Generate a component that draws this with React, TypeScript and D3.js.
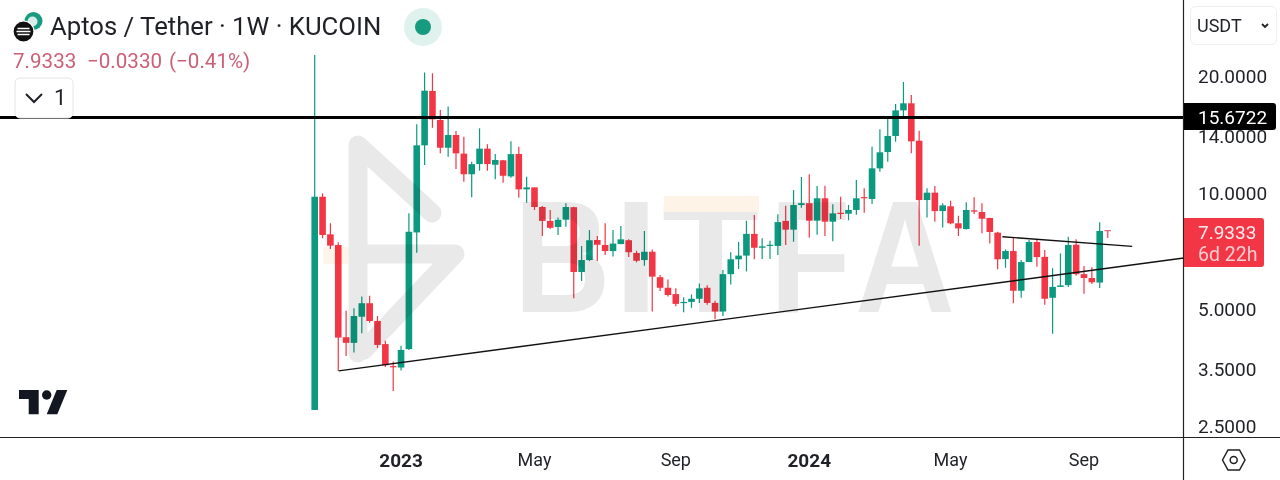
import React from "react";
import * as d3 from "d3";

const WIDTH = 1280, HEIGHT = 480;
const AXIS_X = 1183.5, AXIS_Y = 437.5;

// week index 0 .. 100, weekly candles: [high, top of body, bottom of body, low]
const highs = [22.73,9.98,8.35,7.46,4.96,5.04,5.40,5.43,4.81,4.15,3.67,4.03,8.86,15.05,20.47,20.39,16.38,16.72,14.46,13.98,12.05,14.69,13.36,12.61,12.17,13.60,13.17,11.02,10.34,9.26,9.04,8.65,9.41,9.22,7.30,8.02,7.74,8.35,8.02,8.22,7.59,7.09,7.98,7.15,6.14,5.98,5.67,5.38,5.47,5.84,5.78,5.27,6.32,7.03,7.47,8.48,8.77,7.64,7.53,8.81,9.27,10.18,11.00,11.18,10.42,10.44,9.35,9.78,9.31,10.80,10.28,13.17,14.61,15.75,16.97,19.36,17.91,14.48,10.28,10.42,9.41,9.55,8.74,9.46,9.75,9.41,8.63,7.94,7.15,7.66,6.71,7.56,7.60,7.12,6.39,6.98,7.71,7.59,6.48,6.43,8.40];
const tops = [9.78,9.78,7.82,7.34,4.24,4.81,5.19,5.19,4.67,4.07,3.57,3.93,7.94,13.28,18.38,18.35,15.44,14.12,14.12,12.64,11.87,13.02,13.02,12.17,12.15,12.60,12.61,10.34,10.34,9.20,8.47,8.53,9.20,9.19,6.71,7.55,7.56,7.34,7.40,7.59,7.55,7.00,7.05,7.05,6.06,5.69,5.48,5.23,5.33,5.67,5.69,5.20,6.17,6.74,6.89,7.84,7.84,7.28,7.35,8.41,8.47,9.31,9.41,9.41,9.69,9.69,8.86,8.89,9.04,9.69,9.76,11.58,12.74,14.04,16.35,17.05,17.05,13.65,10.02,10.02,9.29,9.24,8.35,9.04,9.02,8.93,8.62,7.90,7.08,7.08,6.63,7.47,7.47,6.84,5.72,5.77,7.34,7.35,6.17,6.03,7.98];
const bottoms = [2.75,7.79,7.31,4.23,4.10,4.10,4.79,4.67,4.05,3.59,3.55,3.54,3.95,7.91,13.28,15.50,13.09,13.09,12.66,11.18,11.18,11.88,11.88,11.83,11.08,11.04,10.22,10.22,9.20,8.47,8.13,8.17,8.53,6.25,6.25,6.71,7.35,7.08,7.08,7.38,7.03,6.68,6.71,6.08,5.69,5.45,5.17,5.20,5.23,5.33,5.20,4.94,4.94,6.17,6.74,6.89,7.22,7.22,7.32,7.30,8.04,8.04,9.31,8.48,8.48,8.43,8.43,8.84,8.84,9.04,9.72,9.65,11.58,12.76,14.04,16.35,13.60,9.59,9.59,8.98,8.98,8.35,8.10,8.07,8.95,8.58,7.93,6.74,6.75,5.59,5.59,6.63,6.83,5.33,5.36,5.72,5.78,6.17,6.03,5.88,5.87];
const lows = [2.75,7.64,7.17,3.47,3.79,3.87,4.34,4.62,3.98,3.55,3.08,3.48,3.93,7.01,11.81,14.74,12.66,12.41,11.53,10.70,9.75,11.42,11.42,10.85,10.63,10.95,9.72,9.44,9.04,7.74,8.07,7.79,8.18,5.35,5.92,6.67,6.67,6.91,6.85,7.37,6.83,6.62,6.49,4.94,5.58,5.40,5.10,4.92,5.05,5.20,5.14,4.72,4.81,5.80,6.36,6.27,6.74,6.75,6.75,6.91,7.34,7.48,9.16,7.66,7.80,7.74,7.51,8.57,8.50,8.79,8.89,9.37,11.35,12.05,13.57,15.81,12.66,7.31,8.65,8.43,8.15,8.30,7.74,8.05,8.83,7.87,7.41,6.35,6.41,5.19,5.36,6.63,6.45,5.14,4.33,5.72,5.72,6.11,5.49,5.82,5.68];
// 1 = close above open (green), 0 = close below open (red)
const rising = [1,0,0,0,0,1,1,0,0,0,0,1,1,1,1,0,0,1,0,0,1,1,0,1,0,1,0,1,0,0,0,1,1,0,1,1,0,0,1,1,0,0,1,0,0,0,0,1,1,1,0,0,1,1,1,1,0,1,1,1,0,1,1,0,1,0,1,0,1,1,0,1,1,1,1,1,0,0,1,0,1,0,0,1,0,0,0,0,1,0,1,1,0,0,1,1,1,0,0,0,1];

const priceTicks = [20, 14, 10, 5, 3.5, 2.5];
const timeTickIndex = [11, 28, 46, 63, 81, 98];
const timeTickLabels = ["2023", "May", "Sep", "2024", "May", "Sep"];
const timeTickBold = [true, false, false, true, false, false];

const resistanceLevel = 15.6722;
const lastPrice = 7.9333;
// trend lines as [week index, price]
const supportLine: [number, number][] = [[3.05, 3.47], [110.7, 6.79]];
const upperLine: [number, number][] = [[87.6, 7.71], [104.15, 7.28]];

const UP = "#0b9a80";
const DOWN = "#f23645";
const FONT = "Roboto, sans-serif";
const WM = "#e9e9e9";

// price scale: 10 sits at y=193, one octave spans 116.5px
const y = d3.scaleLog().domain([2.5, 20]).range([426, 76.5]);
const x = d3.scaleLinear().domain([0, 100]).range([314.7, 1099.7]);
const trend = d3.line<[number, number]>().x(d => x(d[0])).y(d => y(d[1]));

const watermarkLetters: [string, number, number][] = [
  ["B", 514, 0.84],
  ["I", 614, 1],
  ["T", 662, 1],
  ["F", 770, 0.83],
  ["A", 855, 0.87],
];

function Watermark() {
  return (
    <g style={{ mixBlendMode: "multiply" }}>
      <g fill="none" stroke={WM} strokeWidth={19} strokeLinejoin="round" strokeLinecap="round">
        <path d="M358,353 L358,145 L432,213" />
        <path d="M358,254 L455,254 L364,350" />
      </g>
      <rect x={323} y={247} width={25} height={17} fill="#fdf5ea" />
      {watermarkLetters.map(([ch, lx, sx]) => (
        <text key={ch} transform={`translate(${lx},312) scale(${sx},1)`}
          fontFamily="'Liberation Sans', sans-serif" fontWeight={700} fontSize={159} fill={WM}>{ch}</text>
      ))}
      <rect x={664} y={196} width={95} height={16} fill="#fdf3e7" />
    </g>
  );
}

export default function App() {
  return (
    <svg width={WIDTH} height={HEIGHT} viewBox={`0 0 ${WIDTH} ${HEIGHT}`}
      style={{ position: "fixed", left: 0, top: 0, background: "#fff" }} fontFamily={FONT}>
      <rect width={WIDTH} height={HEIGHT} fill="#fff" />

      {/* candles */}
      <g>
        {highs.map((h, i) => {
          const c = rising[i] ? UP : DOWN;
          const yt = y(tops[i]);
          const yb = y(bottoms[i]);
          return (
            <g key={i}>
              <line x1={x(i)} x2={x(i)} y1={y(h)} y2={y(lows[i])} stroke={c} strokeWidth={1.2} />
              <rect x={x(i) - 3.3} width={6.6} y={yt} height={Math.max(1.2, yb - yt)} fill={c} />
            </g>
          );
        })}
      </g>

      <Watermark />

      {/* drawings */}
      <path d={trend(supportLine) ?? ""} fill="none" stroke="#111" strokeWidth={1.4} />
      <path d={trend(upperLine) ?? ""} fill="none" stroke="#111" strokeWidth={1.4} />
      <line x1={0} x2={AXIS_X} y1={y(resistanceLevel)} y2={y(resistanceLevel)} stroke="#000" strokeWidth={3} />
      <text x={x(100) + 8} y={y(lastPrice) + 6} fontSize={11} fontWeight={700} textAnchor="middle" fill="#e0697a">T</text>

      {/* frame */}
      <line x1={AXIS_X} x2={AXIS_X} y1={0} y2={HEIGHT} stroke="#222" strokeWidth={1.2} />
      <line x1={0} x2={WIDTH} y1={AXIS_Y} y2={AXIS_Y} stroke="#222" strokeWidth={1.2} />

      {/* price axis */}
      {priceTicks.map(p => (
        <text key={p} x={1198} y={y(p)} dy="0.36em" fontSize={19} fill="#1f2126">{p.toFixed(4)}</text>
      ))}
      <path d="M1184,103 H1273 a3,3 0 0 1 3,3 V127 a3,3 0 0 1 -3,3 H1184 Z" fill="#000" />
      <text x={1198} y={y(resistanceLevel)} dy="0.36em" fontSize={19} fill="#fff">{resistanceLevel.toFixed(4)}</text>
      <path d="M1184,218 H1261 a3,3 0 0 1 3,3 V264 a3,3 0 0 1 -3,3 H1184 Z" fill={DOWN} />
      <text x={1198} y={232} dy="0.36em" fontSize={19} fill="#fff" fillOpacity={0.9}>{lastPrice.toFixed(4)}</text>
      <text x={1198} y={254} dy="0.36em" fontSize={19.5} fill="#fff" fillOpacity={0.75}>6d 22h</text>

      {/* time axis */}
      {timeTickIndex.map((t, i) => (
        <text key={i} x={x(t)} y={460} dy="0.36em" textAnchor="middle" fontSize={timeTickBold[i] ? 19 : 18}
          fontWeight={timeTickBold[i] ? 700 : 400} fill="#1f2126">{timeTickLabels[i]}</text>
      ))}

      {/* header */}
      <circle cx={33.5} cy={21} r={9} fill="#1a9a80" />
      <circle cx={32.5} cy={21.5} r={5} fill="#d6ece7" />
      <circle cx={23.5} cy={31.5} r={10.5} fill="#111" stroke="#fff" strokeWidth={1.2} />
      <path d="M17.5,28.5 H29.5 M16.5,31.5 H30.5 M17.5,34.5 H29.5" stroke="#fff" strokeWidth={1.3} />
      <text x={50} y={35} fontSize={25.7} fill="#1f2126">Aptos / Tether · 1W · KUCOIN</text>
      <circle cx={423} cy={27} r={19} fill="#e0f2ee" />
      <circle cx={423} cy={27} r={8} fill="#169b7e" />
      <text x={13} y={68} fontSize={20.6} fill="#cc5f76">7.9333</text>
      <text x={87} y={68} fontSize={20.6} fill="#cc5f76">−0.0330</text>
      <text x={169} y={68} fontSize={20.6} fill="#cc5f76">(−0.41%)</text>

      <rect x={15} y={78} width={58} height={40} rx={5} fill="#fff" stroke="#e4e4e4" />
      <path d="M26,94 L34,102 L42,94" fill="none" stroke="#1f2126" strokeWidth={2} />
      <text x={54} y={105} fontSize={22} fill="#1f2126">1</text>

      <rect x={1190.5} y={6.5} width={86} height={38} rx={5} fill="#fff" stroke="#eeeeee" />
      <text x={1197} y={32} fontSize={18} fill="#1f2126">USDT</text>
      <path d="M1262,24 L1265,27 L1268,24" fill="none" stroke="#1f2126" strokeWidth={1.8} />

      {/* hexagon settings icon */}
      <path d="M1222.5,460 L1228,450 H1239.5 L1245,460 L1239.5,470 H1228 Z" fill="none" stroke="#222" strokeWidth={1.5} />
      <circle cx={1233.7} cy={460} r={3.5} fill="none" stroke="#222" strokeWidth={1.5} />

      {/* TradingView mark */}
      <path d="M19,390 H38.7 V414.3 H28.7 V399 H19 Z" fill="#131722" />
      <circle cx={46.7} cy={395} r={4.7} fill="#131722" />
      <path d="M56.7,390 H67.3 L57.3,414.3 H46.7 Z" fill="#131722" />
    </svg>
  );
}
